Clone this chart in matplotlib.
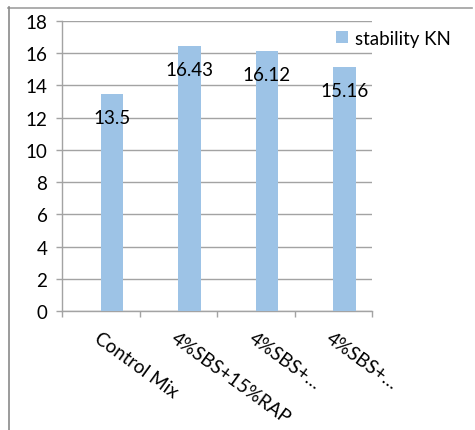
import matplotlib
matplotlib.use("Agg")
import matplotlib.pyplot as plt
from matplotlib.lines import Line2D

categories = ["Control Mix", "4%SBS+15%RAP", "4%SBS+…", "4%SBS+…"]
stability = [13.5, 16.43, 16.12, 15.16]
value_labels = ["13.5", "16.43", "16.12", "15.16"]
y_ticks = [0, 2, 4, 6, 8, 10, 12, 14, 16, 18]

plt.rcParams["font.family"] = ["Lato", "DejaVu Sans"]

W, H = 475, 431
fig = plt.figure(figsize=(W / 100, H / 100), dpi=100)
ax = fig.add_axes([62 / W, 1 - 312 / H, 310 / W, 290 / H])

grid_col = "#a3a3a3"
bar_col = "#9dc3e6"
fs = 13.5

x = list(range(len(categories)))
ax.bar(x, stability, width=0.29, align="edge", color=bar_col,
       label="stability KN", zorder=3)

for xi, v, t in zip(x, stability, value_labels):
    ax.annotate(t, xy=(xi + 0.145, v), xytext=(0, -17), textcoords="offset points",
                ha="center", va="center", fontsize=fs, color="black", zorder=4)

ax.set_xlim(-0.5, 3.5)
ax.set_ylim(0, 18)
ax.set_yticks(y_ticks)
ax.set_yticklabels([str(t) for t in y_ticks], fontsize=fs)
ax.yaxis.grid(True, color=grid_col, linewidth=1.0, zorder=0)

ax.set_xticks(x)
ax.set_xticklabels(categories, fontsize=fs, rotation=-36, ha="left", va="top",
                   rotation_mode="anchor")
ax.set_xticks([-0.5, 0.5, 1.5, 2.5, 3.5], minor=True)
ax.tick_params(axis="x", which="major", length=0, pad=13)
ax.tick_params(axis="x", which="minor", length=4.5, color=grid_col, width=1.0)
ax.tick_params(axis="y", length=4.5, color=grid_col, width=1.0, pad=6)

for s in ["top", "right"]:
    ax.spines[s].set_visible(False)
for s in ["left", "bottom"]:
    ax.spines[s].set_color(grid_col)
    ax.spines[s].set_linewidth(1.0)

ax.legend(loc="upper left", bbox_to_anchor=(336 / W, 1 - 31 / H),
          bbox_transform=fig.transFigure, frameon=False, fontsize=fs,
          handlelength=0.62, handleheight=0.62, handletextpad=0.4,
          borderpad=0, borderaxespad=0)

# outer chart border (top and left only)
fig.add_artist(Line2D([8 / W, 472 / W], [1 - 8.5 / H, 1 - 8.5 / H],
                      transform=fig.transFigure, color="#a0a0a0", linewidth=1.2))
fig.add_artist(Line2D([8.5 / W, 8.5 / W], [0, 1 - 8 / H],
                      transform=fig.transFigure, color="#8a8a8a", linewidth=1.2))

fig.savefig("out.png", dpi=100)
